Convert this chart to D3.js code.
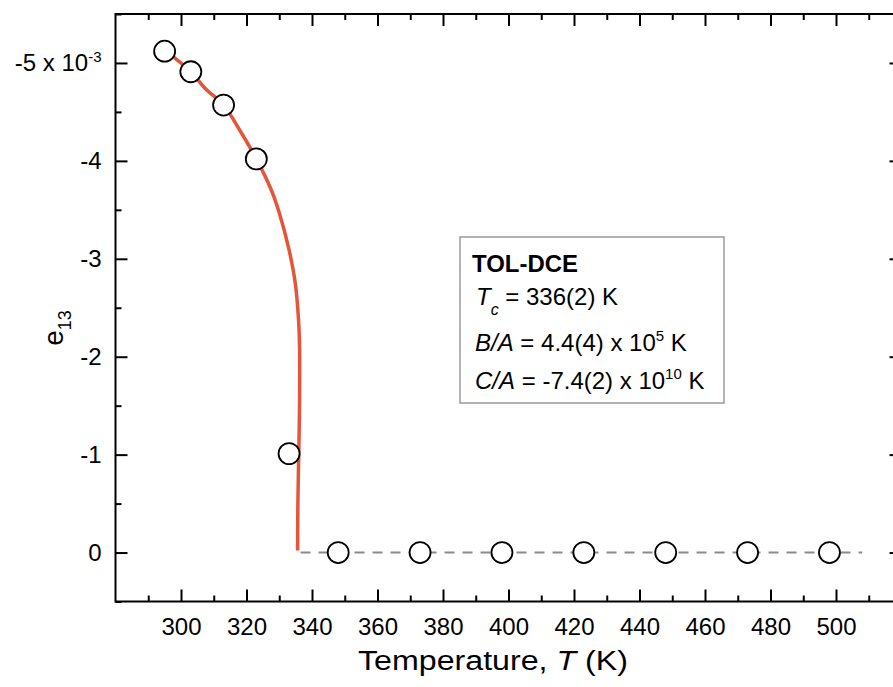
<!DOCTYPE html>
<html>
<head>
<meta charset="utf-8">
<script src="https://cdn.jsdelivr.net/npm/d3@7"></script>
<style>
  body { margin: 0; background: #fff; }
  svg { display: block; font-family: "Liberation Sans", Arial, sans-serif; }
  .tick line { stroke: #000; stroke-width: 2; }
  .tick text { font-size: 24px; fill: #000; font-family: "Liberation Sans", Arial, sans-serif; }
</style>
</head>
<body>
<svg id="chart" width="893" height="687"></svg>
<script>
// measured points, e13 in units of 1e-3
var tempK = [295, 303, 313, 323, 333, 348, 373, 398, 423, 448, 473, 498];
var e13 = [-5.12, -4.91, -4.57, -4.02, -1.01, 0, 0, 0, 0, 0, 0, 0];

// fit curve below Tc
var fitT = [295, 303.0, 307.4, 313.0, 318.0, 323.0, 327.6, 330.0, 333.0, 334.9, 335.9, 336.2, 336.2, 336.0, 335.7, 335.6];
var fitE = [-5.13, -4.91, -4.74, -4.57, -4.31, -4.02, -3.70, -3.47, -3.09, -2.75, -2.37, -2.10, -1.56, -1.08, -0.53, -0.02];

// zero line above Tc
var zeroT = [336.5, 508];
var zeroE = [0, 0];

var xMajor = [300, 320, 340, 360, 380, 400, 420, 440, 460, 480, 500];
var xMinor = [290, 310, 330, 350, 370, 390, 410, 430, 450, 470, 490, 510];
var yMajor = [-5, -4, -3, -2, -1, 0];
var yMinor = [-5.5, -4.5, -3.5, -2.5, -1.5, -0.5, 0.5];

var legendLines = ["TOL-DCE", "336(2) K", "4.4(4) x 10", "-7.4(2) x 10"];

// plot box (window.top is read-only, so no plain "top")
var box = {x0: 115.5, x1: 901.5, y0: 14, y1: 601.5};

var svg = d3.select("#chart");

var x = d3.scaleLinear().domain([280, 520]).range([box.x0, box.x1]);
var y = d3.scaleLinear().domain([0.5, -5.5]).range([box.y1, box.y0]);

// axes, ticks pointing inward
function noLabels(g) { g.selectAll("text").remove(); g.select(".domain").remove(); }

svg.append("g")
    .attr("transform", "translate(0," + box.y1 + ")")
    .call(d3.axisBottom(x).tickValues(xMajor).tickSize(-12).tickPadding(16))
    .call(function(g) { g.select(".domain").remove(); });
svg.append("g")
    .attr("transform", "translate(0," + box.y1 + ")")
    .call(d3.axisBottom(x).tickValues(xMinor).tickSize(-6))
    .call(noLabels);
svg.append("g")
    .attr("transform", "translate(0," + box.y0 + ")")
    .call(d3.axisTop(x).tickValues(xMajor).tickSize(-12))
    .call(noLabels);
svg.append("g")
    .attr("transform", "translate(0," + box.y0 + ")")
    .call(d3.axisTop(x).tickValues(xMinor).tickSize(-6))
    .call(noLabels);

var yAxis = svg.append("g")
    .attr("transform", "translate(" + box.x0 + ",0)")
    .call(d3.axisLeft(y).tickValues(yMajor).tickSize(-12).tickPadding(14)
        .tickFormat(function(d) { return String(d); }))
    .call(function(g) { g.select(".domain").remove(); });
// -5 x 10^-3 label
yAxis.selectAll(".tick text")
    .filter(function(d) { return d === -5; })
    .text(null)
    .call(function(t) {
        t.append("tspan").text("-5 x 10");
        t.append("tspan").attr("dy", -9).attr("font-size", 15).text("-3");
    });
svg.append("g")
    .attr("transform", "translate(" + box.x0 + ",0)")
    .call(d3.axisLeft(y).tickValues(yMinor).tickSize(-6))
    .call(noLabels);
svg.append("g")
    .attr("transform", "translate(" + box.x1 + ",0)")
    .call(d3.axisRight(y).tickValues(yMajor).tickSize(-12))
    .call(noLabels);
svg.append("g")
    .attr("transform", "translate(" + box.x1 + ",0)")
    .call(d3.axisRight(y).tickValues(yMinor).tickSize(-6))
    .call(noLabels);

// frame
svg.append("rect")
    .attr("x", box.x0).attr("y", box.y0)
    .attr("width", box.x1 - box.x0).attr("height", box.y1 - box.y0)
    .attr("fill", "none").attr("stroke", "#000").attr("stroke-width", 2);

// dashed zero line
var zeroLine = d3.line()
    .x(function(d, i) { return x(zeroT[i]); })
    .y(function(d, i) { return y(zeroE[i]); });
svg.append("path")
    .attr("d", zeroLine(zeroT))
    .attr("fill", "none")
    .attr("stroke", "#8a8a8a")
    .attr("stroke-width", 2)
    .attr("stroke-dasharray", "10,8");

// fit curve
var fitLine = d3.line()
    .curve(d3.curveCatmullRom.alpha(0.5))
    .x(function(d, i) { return x(fitT[i]); })
    .y(function(d, i) { return y(fitE[i]); });
svg.append("path")
    .attr("d", fitLine(fitT))
    .attr("fill", "none")
    .attr("stroke", "#e5553a")
    .attr("stroke-width", 3.5);

// data points
svg.selectAll("circle.pt")
    .data(tempK)
    .enter().append("circle")
    .attr("class", "pt")
    .attr("cx", function(d) { return x(d); })
    .attr("cy", function(d, i) { return y(e13[i]); })
    .attr("r", 10.5)
    .attr("fill", "#fff")
    .attr("stroke", "#000")
    .attr("stroke-width", 1.8);

// legend box
var lg = svg.append("g");
lg.append("rect")
    .attr("x", 460).attr("y", 237)
    .attr("width", 264).attr("height", 166)
    .attr("fill", "#fff").attr("stroke", "#999").attr("stroke-width", 1.5);

lg.append("text")
    .attr("x", 472).attr("y", 272)
    .attr("font-size", 23).attr("font-weight", "bold")
    .attr("textLength", 106).attr("lengthAdjust", "spacingAndGlyphs")
    .text(legendLines[0]);

var t1 = lg.append("text").attr("x", 476).attr("y", 305).attr("font-size", 24);
t1.append("tspan").attr("font-style", "italic").text("T");
t1.append("tspan").attr("font-style", "italic").attr("font-size", 16).attr("dy", 10).text("c");
t1.append("tspan").attr("dy", -10).text(" = " + legendLines[1]);

var t2 = lg.append("text").attr("x", 475).attr("y", 351).attr("font-size", 24);
t2.append("tspan").attr("font-style", "italic").text("B");
t2.append("tspan").attr("font-style", "italic").text("/");
t2.append("tspan").attr("font-style", "italic").text("A");
t2.append("tspan").text(" = " + legendLines[2]);
t2.append("tspan").attr("font-size", 15).attr("dy", -10).text("5");
t2.append("tspan").attr("dy", 10).text(" K");

var t3 = lg.append("text").attr("x", 475).attr("y", 389).attr("font-size", 24);
t3.append("tspan").attr("font-style", "italic").text("C");
t3.append("tspan").attr("font-style", "italic").text("/");
t3.append("tspan").attr("font-style", "italic").text("A");
t3.append("tspan").text(" = " + legendLines[3]);
t3.append("tspan").attr("font-size", 15).attr("dy", -10).text("10");
t3.append("tspan").attr("dy", 10).text(" K");

// axis titles
var xt = svg.append("text")
    .attr("x", 358).attr("y", 670)
    .attr("font-size", 27)
    .attr("textLength", 270).attr("lengthAdjust", "spacingAndGlyphs");
xt.append("tspan").text("Temperature,  ");
xt.append("tspan").attr("font-style", "italic").text("T");
xt.append("tspan").text(" (K)");

var yt = svg.append("text")
    .attr("transform", "translate(63,328) rotate(-90)")
    .attr("text-anchor", "middle")
    .attr("font-size", 28);
yt.append("tspan").text("e");
yt.append("tspan").attr("font-size", 18).attr("dy", 8).text("13");
</script>
</body>
</html>
